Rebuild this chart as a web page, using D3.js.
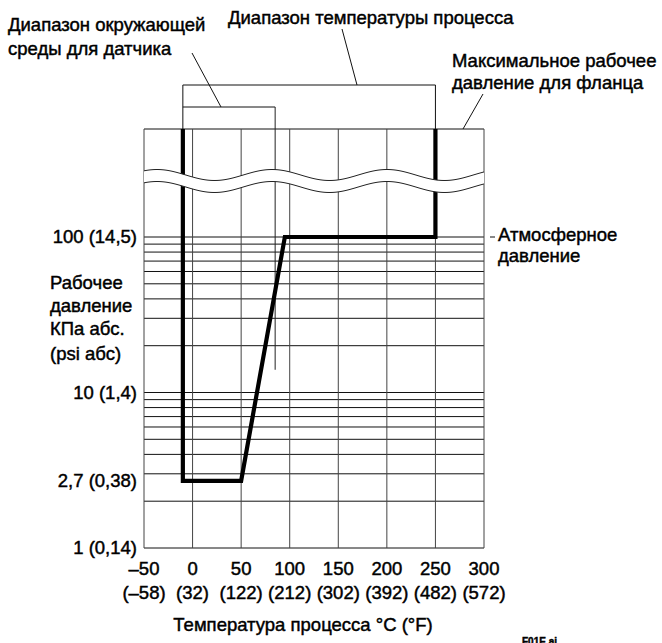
<!DOCTYPE html>
<html>
<head>
<meta charset="utf-8">
<script src="https://cdn.jsdelivr.net/npm/d3@7"></script>
<style>
  body { margin: 0; background: #fff; }
  svg text { font-family: "Liberation Sans", Arial, sans-serif; fill: #000; stroke: #000; stroke-width: 0.45px; }
</style>
</head>
<body>
<div id="chart"></div>
<script>
// temperature axis, deg C with deg F below
const tempTicks = [-50, 0, 50, 100, 150, 200, 250, 300];
const tempTicksF = ['(\u201358)', '(32)', '(122)', '(212)', '(302)', '(392)', '(482)', '(572)'];

// pressure axis, kPa abs (log)
const pressureTicks = [1, 2.7, 10, 100];
const pressureLabels = ['1 (0,14)', '2,7 (0,38)', '10 (1,4)', '100 (14,5)'];
const pressureGrid = [2, 3, 4, 5, 6, 7, 8, 9, 10, 20, 30, 40, 50, 60, 70, 80, 90, 100];

// operating envelope: [temp C, pressure kPa]; 'top' = max flange pressure
const envelope = [[-10, 'top'], [-10, 2.7], [50, 2.7], [95, 100], [250, 100], [250, 'top']];

// ranges shown by the brackets
const processRange = [-10, 250];
const ambientRange = [-10, 85];
const ambientLineEnd = 14; // kPa, where the 85 C line stops

document.addEventListener('DOMContentLoaded', () => {
    const width = 662, height = 643;
    const topY = 129;          // top of the break section
    const bracketProc = 85, bracketAmb = 107;

    const svg = d3.select('#chart').append('svg')
        .attr('width', width)
        .attr('height', height);

    const x = d3.scaleLinear().domain([-50, 300]).range([144, 484]);
    const y = d3.scaleLog().domain([1, 100]).range([548, 237]);
    const py = v => v === 'top' ? topY : y(v);

    // wavy break between the flange section and the chart
    const wave = (xx, off) => 175 + off - 5.5 * Math.cos(2 * Math.PI * (xx - 157) / 115);
    const wx = d3.range(x(-50), x(300) + 0.5, 2);

    const grid = svg.append('g');

    // horizontal grid (log)
    grid.selectAll('line.h')
        .data(pressureGrid)
        .enter()
        .append('line')
        .attr('x1', x(-50)).attr('x2', x(300))
        .attr('y1', d => y(d)).attr('y2', d => y(d))
        .attr('stroke', '#111')
        .attr('stroke-width', 1);

    // bottom frame
    grid.append('line')
        .attr('x1', x(-50)).attr('x2', x(300))
        .attr('y1', y(1)).attr('y2', y(1))
        .attr('stroke', '#111');

    // top of flange box
    grid.append('line')
        .attr('x1', x(-50)).attr('x2', x(300))
        .attr('y1', topY).attr('y2', topY)
        .attr('stroke', '#111');

    // vertical grid
    grid.selectAll('line.v')
        .data(tempTicks)
        .enter()
        .append('line')
        .attr('x1', d => x(d)).attr('x2', d => x(d))
        .attr('y1', topY).attr('y2', y(1))
        .attr('stroke', '#444')
        .attr('stroke-width', 1);

    // 85 C line, from the ambient bracket down
    grid.append('line')
        .attr('x1', x(ambientRange[1])).attr('x2', x(ambientRange[1]))
        .attr('y1', bracketAmb).attr('y2', y(ambientLineEnd))
        .attr('stroke', '#222');

    // thick envelope
    svg.append('path')
        .attr('d', d3.line().x(d => x(d[0])).y(d => py(d[1]))(envelope))
        .attr('fill', 'none')
        .attr('stroke', '#000')
        .attr('stroke-width', 4.2)
        .attr('stroke-linejoin', 'miter');

    // white gap of the break, then the two wavy edges
    const gap = wx.map(v => [v, wave(v, 0)]).concat(wx.slice().reverse().map(v => [v, wave(v, 12)]));
    svg.append('path')
        .attr('d', d3.line()(gap) + 'Z')
        .attr('fill', '#fff');
    [0, 12].forEach(off => {
        svg.append('path')
            .attr('d', d3.line()(wx.map(v => [v, wave(v, off)])))
            .attr('fill', 'none')
            .attr('stroke', '#222')
            .attr('stroke-width', 1);
    });

    // brackets
    const br = svg.append('g').attr('fill', 'none').attr('stroke', '#111').attr('stroke-width', 1);
    br.append('path')
        .attr('d', `M${x(processRange[0])},${topY}V${bracketProc}H${x(processRange[1])}V${topY}`);
    br.append('path')
        .attr('d', `M${x(ambientRange[0])},${bracketAmb}H${x(ambientRange[1])}`);

    // leader lines
    br.append('line').attr('x1', 192).attr('y1', 53).attr('x2', 221).attr('y2', bracketAmb);
    br.append('line').attr('x1', 342).attr('y1', 29).attr('x2', 357).attr('y2', bracketProc);
    br.append('line').attr('x1', 463).attr('y1', topY).attr('x2', 483).attr('y2', 94);
    br.append('line').attr('x1', 490).attr('y1', y(100)).attr('x2', 495).attr('y2', y(100));

    const fs = 18.5;
    const txt = (t, tx, ty, anchor) => svg.append('text')
        .attr('x', tx).attr('y', ty)
        .attr('text-anchor', anchor || 'start')
        .style('font-size', fs + 'px')
        .text(t);

    // annotations
    txt('Диапазон окружающей', 8, 31);
    txt('среды для датчика', 8, 55);
    txt('Диапазон температуры процесса', 228, 24);
    txt('Максимальное рабочее', 452, 67);
    txt('давление для фланца', 452, 89);
    txt('Атмосферное', 498, y(100) + 4);
    txt('давление', 498, y(100) + 25);

    // y axis labels
    svg.selectAll('text.ylab')
        .data(pressureTicks)
        .enter()
        .append('text')
        .attr('x', 137)
        .attr('y', d => y(d) + 6)
        .attr('text-anchor', 'end')
        .style('font-size', fs + 'px')
        .text((d, i) => pressureLabels[i]);

    ['Рабочее', 'давление', 'КПа абс.', '(psi абс)'].forEach((t, i) => {
        txt(t, 50, [289, 312, 335, 360][i]);
    });

    // x axis labels
    svg.selectAll('text.xlab')
        .data(tempTicks)
        .enter()
        .append('text')
        .attr('x', d => x(d))
        .attr('y', 575)
        .attr('text-anchor', 'middle')
        .style('font-size', fs + 'px')
        .text(d => d < 0 ? '\u2013' + Math.abs(d) : d);

    svg.selectAll('text.xlabf')
        .data(tempTicks)
        .enter()
        .append('text')
        .attr('x', d => x(d))
        .attr('y', 599)
        .attr('text-anchor', 'middle')
        .style('font-size', fs + 'px')
        .text((d, i) => tempTicksF[i]);

    txt('Температура процесса  °C (°F)', 303, 631, 'middle');

    svg.append('text')
        .attr('x', 557).attr('y', 645)
        .attr('text-anchor', 'end')
        .style('font-size', '10px')
        .style('font-weight', 'bold')
        .text('F01E.ai');
});
</script>
</body>
</html>
